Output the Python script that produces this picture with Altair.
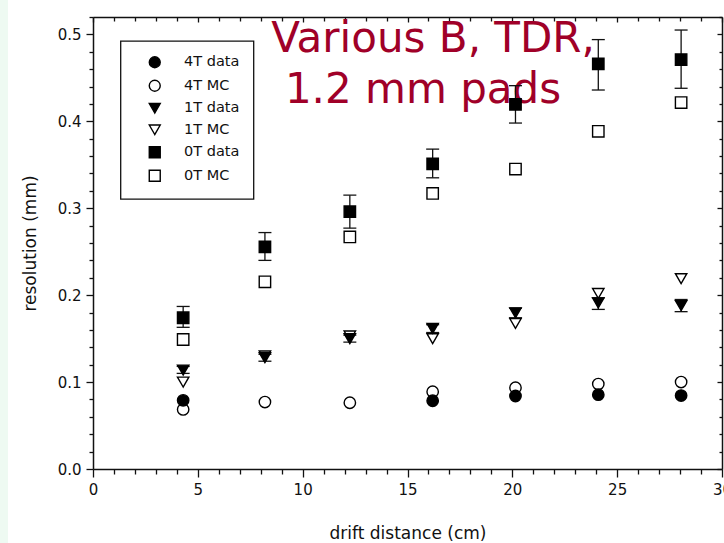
import altair as alt
import pandas as pd

# ---- data ----
x_cm = [4.3, 8.2, 12.25, 16.2, 20.15, 24.1, 28.05]
t4_data = [0.079, None, None, 0.0785, 0.084, 0.0855, 0.0845]
t4_mc = [0.0685, 0.077, 0.0762, 0.0889, 0.0935, 0.0977, 0.100]
t1_data = [0.1138, 0.128, 0.150, 0.1617, 0.1797, 0.191, 0.188]
t1_lo = [0.110, 0.124, 0.146, 0.157, 0.174, 0.1836, 0.181]
t1_hi = [0.118, 0.132, 0.154, 0.166, 0.185, 0.197, 0.195]
t1_mc = [0.100, 0.130, 0.153, 0.150, 0.1674, 0.2019, 0.219]
t0_data = [0.174, 0.2555, 0.296, 0.351, 0.4195, 0.466, 0.471]
t0_lo = [0.163, 0.240, 0.277, 0.335, 0.398, 0.436, 0.438]
t0_hi = [0.187, 0.272, 0.315, 0.368, 0.441, 0.494, 0.505]
t0_mc = [0.149, 0.2153, 0.267, 0.317, 0.345, 0.3885, 0.4215]

series_names = ["4T data", "4T MC", "1T data", "1T MC", "0T data", "0T MC"]
series_values = [t4_data, t4_mc, t1_data, t1_mc, t0_data, t0_mc]
series_shapes = ["circle", "circle", "triangle-down", "triangle-down", "square", "square"]
series_fills = ["black", "transparent", "black", "transparent", "black", "transparent"]

x_ticks = list(range(0, 31))
y_ticks = [round(i * 0.02, 2) for i in range(27)]

note_lines = ["Various B, TDR,", "1.2 mm pads"]

# ---- tables ----
rows = []
for name, vals in zip(series_names, series_values):
    for xv, yv in zip(x_cm, vals):
        if yv is not None:
            rows.append({"x": xv, "y": yv, "series": name})
pts = pd.DataFrame(rows)

err = pd.DataFrame(
    [{"x": xv, "lo": lo, "hi": hi} for xv, lo, hi in zip(x_cm, t0_lo, t0_hi)]
    + [{"x": xv, "lo": lo, "hi": hi} for xv, lo, hi in zip(x_cm, t1_lo, t1_hi)]
)

W, H = 629, 452
INK = "#111111"
TICKFONT = "DejaVu Sans"

xs = alt.Scale(domain=[0, 30], nice=False, zero=False)
ys = alt.Scale(domain=[0, 0.52], nice=False, zero=False)

x_major = "datum.value % 5 === 0"
y_major = "abs(datum.value * 10 - round(datum.value * 10)) < 1e-6"

main_x = alt.Axis(
    orient="bottom", values=x_ticks, grid=False, labelFlush=False, labelOverlap=False,
    labelExpr=f"{x_major} ? format(datum.value, 'd') : ''",
    tickSize={"condition": {"test": x_major, "value": 8}, "value": 5},
    domainColor=INK, domainWidth=1.5, tickColor=INK, tickWidth=1.3,
    labelFont=TICKFONT, labelFontSize=15, labelColor=INK, labelPadding=5,
    title="drift distance (cm)", titleFont="DejaVu Sans", titleFontSize=17,
    titleFontWeight="normal", titleColor=INK, titlePadding=28,
)
main_y = alt.Axis(
    orient="left", values=y_ticks, grid=False, labelOverlap=False, labelFlush=False,
    labelExpr=f"{y_major} ? format(datum.value, '.1f') : ''",
    tickSize={"condition": {"test": y_major, "value": 7}, "value": 4},
    domainColor=INK, domainWidth=1.5, tickColor=INK, tickWidth=1.3,
    labelFont=TICKFONT, labelFontSize=15, labelColor=INK, labelPadding=5,
    title="resolution (mm)", titleFont="DejaVu Sans", titleFontSize=17,
    titleFontWeight="normal", titleColor=INK, titlePadding=18,
)
mirror_x = alt.Axis(
    orient="bottom", offset=-H, values=x_ticks, grid=False, labels=False, title=None,
    tickSize={"condition": {"test": x_major, "value": 5}, "value": 4},
    domainColor=INK, domainWidth=1.5, tickColor=INK, tickWidth=1.3,
)
mirror_y = alt.Axis(
    orient="left", offset=-W, values=y_ticks, grid=False, labels=False, title=None,
    tickSize={"condition": {"test": y_major, "value": 5}, "value": 3},
    domainColor=INK, domainWidth=1.5, tickColor=INK, tickWidth=1.3,
)

strip = alt.Chart(pd.DataFrame({"k": [0]})).mark_rect(color="#eefaf2").encode(
    x=alt.value(-93), x2=alt.value(-85), y=alt.value(-17), y2=alt.value(H + 74)
)

notes = pd.DataFrame({"line": note_lines})
note1 = alt.Chart(notes.iloc[[0]]).mark_text(
    font="DejaVu Sans", fontSize=42, color="#a00028", align="center", baseline="alphabetic"
).encode(text="line:N", x=alt.value(340), y=alt.value(35))
note2 = alt.Chart(notes.iloc[[1]]).mark_text(
    font="DejaVu Sans", fontSize=42, color="#a00028", align="center", baseline="alphabetic"
).encode(text="line:N", x=alt.value(330), y=alt.value(86))

bars = alt.Chart(err).mark_rule(color=INK, strokeWidth=1.3).encode(
    x=alt.X("x:Q", scale=xs, axis=mirror_x),
    y=alt.Y("lo:Q", scale=ys, axis=mirror_y),
    y2="hi:Q",
)
cap_lo = alt.Chart(err).mark_tick(color=INK, orient="horizontal", size=13, thickness=1.3, opacity=1).encode(
    x=alt.X("x:Q", scale=xs, axis=None), y=alt.Y("lo:Q", scale=ys, axis=None)
)
cap_hi = alt.Chart(err).mark_tick(color=INK, orient="horizontal", size=13, thickness=1.3, opacity=1).encode(
    x=alt.X("x:Q", scale=xs, axis=None), y=alt.Y("hi:Q", scale=ys, axis=None)
)

points = alt.Chart(pts).mark_point(strokeWidth=1.4, size=130, opacity=1).encode(
    x=alt.X("x:Q", scale=xs, axis=main_x),
    y=alt.Y("y:Q", scale=ys, axis=main_y),
    shape=alt.Shape("series:N", scale=alt.Scale(domain=series_names, range=series_shapes),
                    legend=alt.Legend(title=None)),
    fill=alt.Fill("series:N", scale=alt.Scale(domain=series_names, range=series_fills),
                  legend=alt.Legend(title=None)),
    stroke=alt.Stroke("series:N", scale=alt.Scale(domain=series_names, range=["black"] * 6),
                      legend=alt.Legend(title=None)),
)

chart = (
    alt.layer(strip, note1, note2, bars, cap_lo, cap_hi, points)
    .resolve_axis(x="independent", y="independent")
    .properties(
        width=W, height=H,
        autosize=alt.AutoSizeParams(type="none"),
        padding={"left": 93, "top": 17, "right": 2, "bottom": 74},
    )
    .configure(background="white")
    .configure_view(stroke=None)
    .configure_legend(
        orient="none", legendX=27.5, legendY=24,
        strokeColor=INK, strokeWidth=1.3, fillColor="white", padding=14,
        symbolSize=120, symbolStrokeWidth=1.4,
        symbolOffset=13, labelOffset=22, rowPadding=5.5,
        labelFont=TICKFONT, labelFontSize=14.5, labelColor=INK, cornerRadius=0,
    )
)

chart.save("out.html", embed_options={"renderer": "svg", "actions": False})
